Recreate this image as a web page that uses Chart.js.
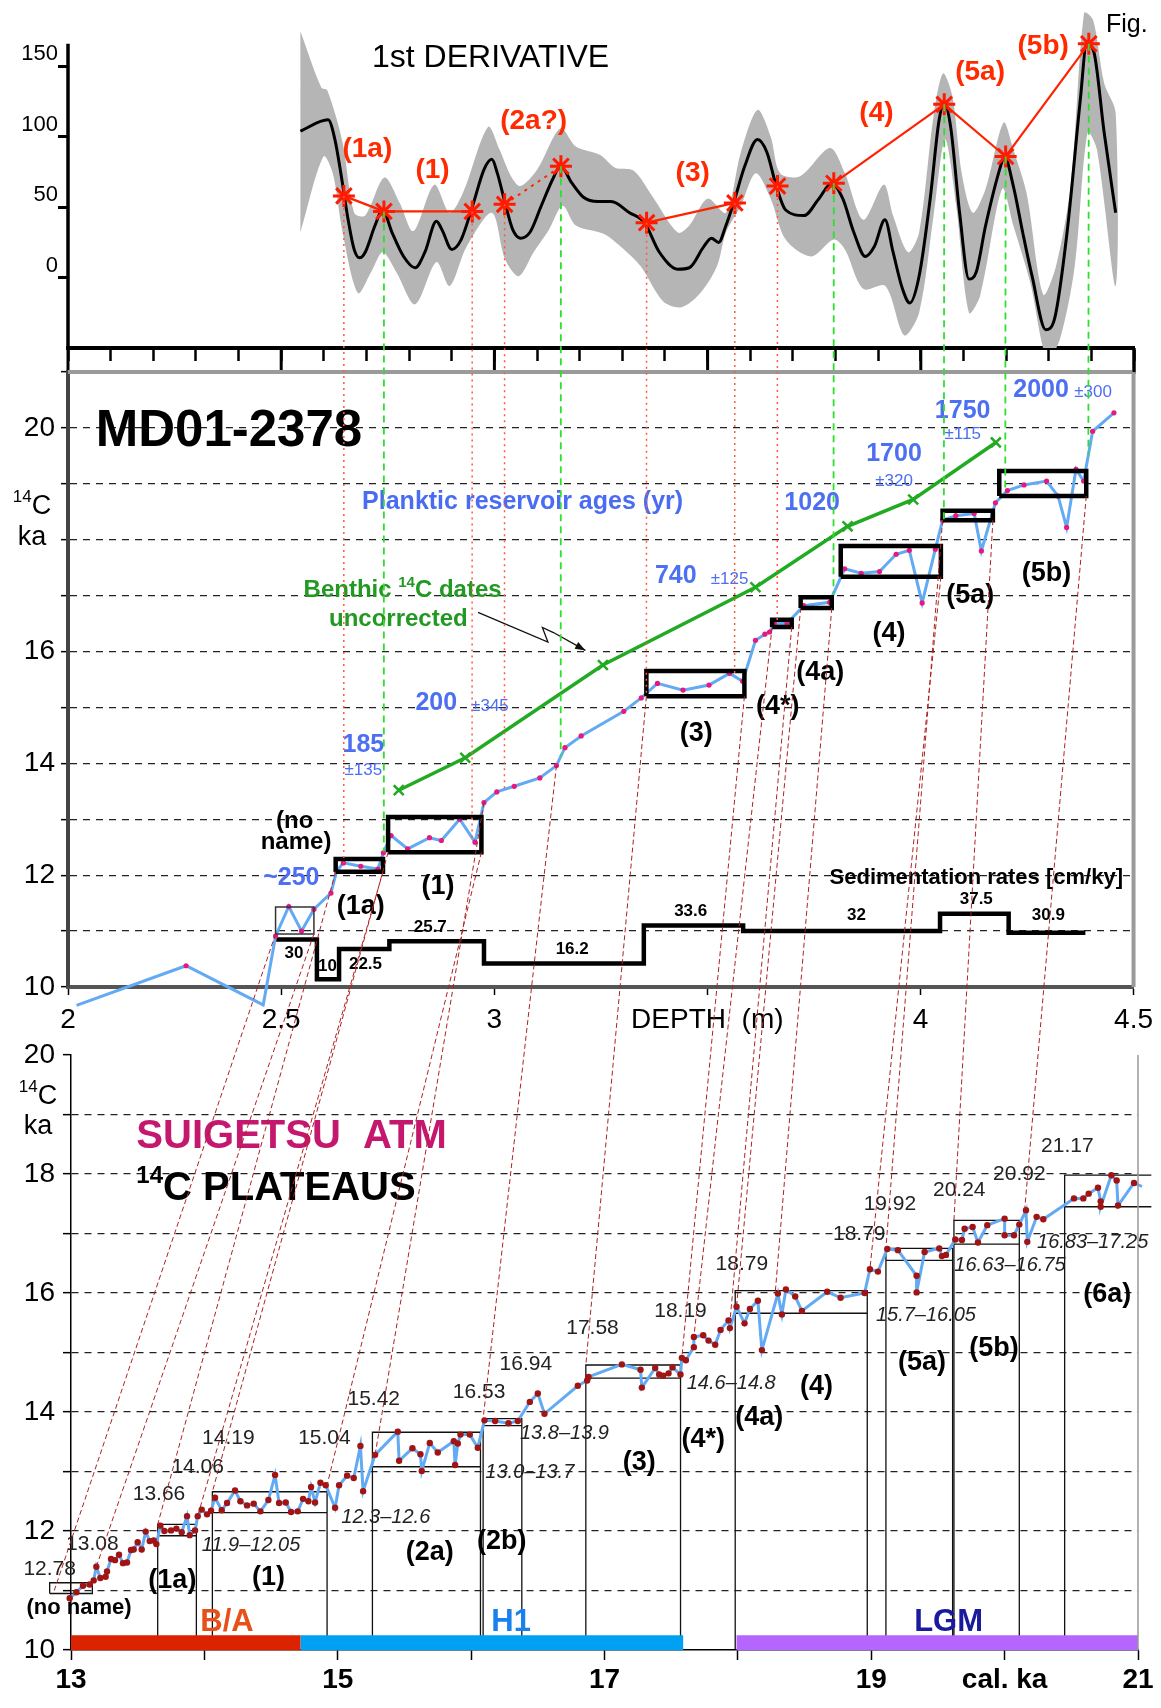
<!DOCTYPE html>
<html>
<head>
<meta charset="utf-8">
<script src="https://cdn.jsdelivr.net/npm/chart.js@4.4.1/dist/chart.umd.min.js"></script>
<style>
  html, body { margin: 0; padding: 0; background: #fff; }
  #page { position: relative; width: 1161px; height: 1708px; overflow: hidden; }
  canvas { position: absolute; left: 0; }
  #overlay { pointer-events: none; }
</style>
</head>
<body>
<div id="page">
  <canvas id="topChart"></canvas>
  <canvas id="midChart"></canvas>
  <canvas id="botChart"></canvas>
  <canvas id="overlay" width="1161" height="1708" style="top:0"></canvas>
</div>
<script>
// ---------- top panel: 1st derivative ----------
const derivDepth = [2.545,2.610,2.626,2.642,2.657,2.671,2.684,2.697,2.720,2.738,2.760,2.787,2.814,2.837,2.864,2.877,2.900,2.922,2.949,2.976,2.994,3.007,3.025,3.043,3.061,3.083,3.110,3.137,3.155,3.182,3.209,3.243,3.274,3.317,3.352,3.387,3.430,3.457,3.491,3.509,3.526,3.543,3.561,3.587,3.617,3.639,3.661,3.683,3.726,3.761,3.791,3.817,3.843,3.870,3.891,3.916,3.935,3.957,3.974,3.996,4.022,4.043,4.055,4.070,4.091,4.113,4.130,4.152,4.187,4.196,4.217,4.239,4.261,4.293,4.313,4.343,4.374,4.389,4.406,4.430,4.457];
const derivVal = [104,112,98,70,41,20,14,18,37,48,32,15,7,18,40,34,20,27,51,77,84,74,53,34,28,32,51,70,79,67,57,54,54,46,39,18,6,7,22,28,25,37,53,79,98,89,65,48,44,56,67,56,32,15,22,41,18,-8,-18,1,56,112,124,107,46,-1,4,37,79,86,65,32,1,-37,-30,32,126,166,160,103,46];
const bandUpDepth = [2.545,2.594,2.608,2.644,2.671,2.697,2.742,2.778,2.810,2.859,2.895,2.926,2.985,3.012,3.039,3.061,3.101,3.155,3.191,3.248,3.283,3.326,3.370,3.430,3.457,3.500,3.543,3.578,3.617,3.648,3.670,3.717,3.787,3.822,3.865,3.913,3.935,3.970,3.996,4.030,4.052,4.074,4.096,4.122,4.152,4.194,4.217,4.248,4.287,4.317,4.352,4.383,4.404,4.430,4.457];
const bandUpVal = [175,135,133,96,46,44,71,53,33,66,46,60,107,91,72,65,77,106,93,87,78,76,58,32,37,56,46,89,119,100,74,72,92,74,41,66,44,18,32,115,145,129,74,46,63,110,91,60,-12,8,67,188,183,138,117];
const bandLoDepth = [2.545,2.599,2.621,2.644,2.680,2.711,2.738,2.770,2.814,2.864,2.895,2.935,2.994,3.025,3.057,3.092,3.128,3.160,3.191,3.257,3.300,3.343,3.396,3.439,3.483,3.522,3.543,3.578,3.613,3.648,3.683,3.743,3.796,3.822,3.865,3.917,3.961,3.996,4.030,4.057,4.083,4.113,4.139,4.191,4.217,4.257,4.296,4.326,4.361,4.391,4.413,4.457];
const bandLoVal = [32,86,74,32,-11,4,18,4,-19,11,-6,22,46,13,1,18,34,51,37,31,21,8,-17,-21,-11,8,32,51,74,56,27,15,27,20,-8,-6,-41,-25,44,98,51,-25,-13,63,37,-4,-58,-44,8,103,91,-6];
const starDepth = [2.647,2.741,2.948,3.024,3.156,3.357,3.564,3.664,3.796,4.055,4.199,4.394];
const starVal = [58,47,47,52,79,39,53,65,67,123,86,166];
const starKind = ['r','g','r','r','g','r','r','r','g','g','g','g'];
const starChains = [[0,1,2],[5,6],[8,9,10,11]];
const starDotted = [[3,4]];
const topLabelText = ['(1a)','(1)','(2a?)','(3)','(4)','(5a)','(5b)'];
const topLabelDepth = [2.702,2.855,3.092,3.465,3.896,4.139,4.287];
const topLabelVal = [91,76,111,74,117,146,164];
const topTicks = [0,50,100,150];

// ---------- middle panel: MD01-2378 ----------
const coreDepth = [2.02,2.277,2.458,2.487,2.518,2.548,2.577,2.617,2.63,2.646,2.687,2.727,2.74,2.758,2.797,2.848,2.876,2.919,2.955,2.976,3.006,3.047,3.107,3.146,3.166,3.204,3.304,3.345,3.383,3.443,3.504,3.552,3.583,3.613,3.635,3.646,3.657,3.687,3.726,3.787,3.822,3.861,3.904,3.943,3.974,4.004,4.035,4.052,4.083,4.126,4.143,4.176,4.204,4.243,4.296,4.323,4.343,4.365,4.383,4.404,4.454];
const coreAge = [9.67,10.38,9.68,10.91,11.44,11.0,11.39,11.68,12.07,12.22,12.16,12.11,12.4,12.71,12.47,12.67,12.62,13.0,12.59,13.30,13.49,13.59,13.74,13.96,14.28,14.49,14.93,15.17,15.43,15.31,15.40,15.61,15.47,16.20,16.31,16.35,16.50,16.50,16.82,16.88,17.48,17.40,17.43,17.74,17.81,16.87,17.83,18.35,18.43,18.47,17.80,18.66,18.88,18.98,19.05,18.78,18.22,19.26,19.05,19.94,20.27];
const benthicDepth = [2.776,2.932,3.255,3.613,3.829,3.983,4.177];
const benthicAge = [13.52,14.10,15.76,17.15,18.24,18.72,19.74];
const sedDepth = [2.487,2.584,2.636,2.754,2.976,3.351,3.584,4.046,4.207,4.387];
const sedLevel = [10.85,10.14,10.68,10.82,10.42,11.10,11.00,11.31,10.97,10.97];
const sedRate = ['30','10','22.5','25.7','16.2','33.6','32','37.5','30.9'];
const sedLabelDepth = [2.53,2.609,2.698,2.85,3.183,3.461,3.85,4.131,4.30];
const sedLabelAge = [10.60,10.37,10.40,11.07,10.68,11.35,11.29,11.56,11.29];
const boxD0 = [2.487,2.628,2.751,3.357,3.652,3.719,3.813,4.052,4.185];
const boxD1 = [2.577,2.739,2.970,3.587,3.698,3.792,4.048,4.170,4.389];
const boxA0 = [10.95,12.06,12.41,15.20,16.44,16.78,17.34,18.35,18.78];
const boxA1 = [11.43,12.29,13.04,15.65,16.57,16.97,17.89,18.52,19.23];
const midBoxLabel = ['(1a)','(1)','(3)','(4*)','(4a)','(4)','(5a)','(5b)'];
const midBoxLabelDepth = [2.687,2.868,3.474,3.665,3.765,3.926,4.117,4.296];
const midBoxLabelAge = [11.44,11.80,14.54,15.01,15.63,16.32,17.00,17.39];
const resAge = ['185','200','740','1020','1700','1750','2000','~250'];
const resDepth = [2.693,2.864,3.426,3.746,3.938,4.099,4.283,2.524];
const resAt = [14.33,15.08,17.35,18.66,19.53,20.30,20.67,11.95];
const resErr = ['±135','±345','±125','±320','±115','±300'];
const resErrDepth = [2.693,2.99,3.552,3.938,4.099,4.405];
const resErrAt = [13.87,15.02,17.30,19.05,19.88,20.64];
const arrowDepth = [2.962,3.126,3.113,3.139,3.214];
const arrowAge = [16.70,16.17,16.43,16.34,16.02];

// ---------- bottom panel: Suigetsu plateaus ----------
const calAge = [12.87,12.89,12.92,12.96,12.99,13.04,13.09,13.14,13.17,13.19,13.22,13.26,13.27,13.30,13.33,13.36,13.39,13.42,13.45,13.47,13.50,13.53,13.56,13.59,13.62,13.64,13.67,13.70,13.75,13.79,13.83,13.87,13.89,13.93,13.95,13.98,14.02,14.05,14.08,14.13,14.17,14.23,14.27,14.32,14.37,14.42,14.48,14.53,14.56,14.61,14.65,14.70,14.74,14.78,14.80,14.83,14.87,14.91,14.98,15.01,15.07,15.12,15.17,15.19,15.28,15.45,15.46,15.56,15.62,15.63,15.69,15.75,15.87,15.88,15.90,15.92,15.99,16.05,16.10,16.18,16.28,16.35,16.44,16.50,16.55,16.80,16.87,16.88,17.13,17.27,17.28,17.38,17.41,17.44,17.48,17.51,17.57,17.58,17.61,17.67,17.67,17.74,17.78,17.83,17.87,17.93,17.94,17.99,18.05,18.09,18.15,18.18,18.30,18.33,18.36,18.43,18.48,18.67,18.77,18.95,18.99,19.05,19.12,19.20,19.34,19.34,19.40,19.51,19.53,19.56,19.63,19.68,19.70,19.76,19.80,19.87,20.00,20.00,20.07,20.11,20.16,20.17,20.24,20.29,20.52,20.59,20.63,20.70,20.72,20.72,20.80,20.84,20.85,20.97,21.03];
const calC14 = [10.97,11.07,11.08,11.06,10.87,10.97,11.08,11.10,11.17,11.40,11.21,11.23,11.32,11.53,11.51,11.60,11.46,11.47,11.68,11.69,11.81,11.69,11.99,11.83,11.84,11.78,12.09,12.00,12.01,12.04,11.98,12.25,11.93,12.01,12.25,12.36,12.28,12.34,12.56,12.35,12.47,12.68,12.50,12.43,12.46,12.33,12.52,12.94,12.47,12.48,12.32,12.33,12.54,12.50,12.74,12.48,12.81,12.77,12.39,12.77,12.93,12.89,13.43,12.67,13.28,13.67,13.18,13.39,13.29,13.01,13.48,13.32,13.51,13.11,13.47,13.62,13.62,13.40,13.86,13.85,13.81,13.85,14.17,14.31,13.97,14.44,14.53,14.59,14.80,14.71,14.41,14.74,14.63,14.61,14.65,14.75,14.63,14.91,14.87,15.09,15.26,15.29,15.20,15.13,15.38,15.54,15.41,15.77,15.49,15.73,15.87,15.04,15.99,15.64,16.06,15.94,15.70,16.02,15.92,16.00,16.40,16.36,16.74,16.72,16.29,16.01,16.69,16.75,16.62,16.64,16.90,16.89,17.08,17.11,16.85,17.14,17.25,16.97,16.97,17.15,17.39,16.86,17.28,17.24,17.59,17.59,17.67,17.77,17.54,17.45,17.98,17.89,17.47,17.85,17.79];
const platX0 = [12.84,13.65,14.06,15.26,16.09,16.86,17.98,19.11,19.62,20.45];
const platX1 = [13.16,13.94,14.92,16.07,16.38,17.57,18.97,19.61,20.11,21.10];
const platY0 = [10.95,11.92,12.31,13.08,13.77,14.57,15.66,16.55,16.82,17.45];
const platY1 = [11.13,12.11,12.66,13.66,13.89,14.79,16.04,16.75,17.22,17.98];
const platLegs = ['none','both','both','both','both','both','both','both','both','left'];
const calText = ['12.78','13.08','13.66','14.06','14.19','15.04','15.42','16.53','16.94','17.58','18.19','18.79','18.79','19.92','20.24','20.92','21.17'];
const calTextX = [12.84,13.16,13.66,13.95,14.18,14.90,15.27,16.06,16.41,16.91,17.57,18.03,18.91,19.14,19.66,20.11,20.47];
const calTextY = [11.36,11.78,12.62,13.07,13.56,13.56,14.21,14.34,14.81,15.40,15.69,16.48,16.99,17.49,17.73,17.99,18.46];
const rangeText = ['11.9–12.05','12.3–12.6','13.0–13.7','13.8–13.9','14.6–14.8','15.7–16.05','16.63–16.75','16.83–17.25'];
const rangeX = [14.35,15.36,16.44,16.70,17.95,19.41,20.04,20.66];
const rangeY = [11.75,12.22,12.98,13.64,14.48,15.62,16.46,16.85];
const platName = ['(no name)','(1a)','(1)','(2a)','(2b)','(3)','(4*)','(4a)','(4)','(5a)','(5b)','(6a)'];
const platNameX = [13.06,13.76,14.48,15.69,16.23,17.26,17.74,18.16,18.59,19.38,19.92,20.77];
const platNameY = [10.71,11.17,11.22,11.64,11.83,13.15,13.54,13.90,14.43,14.83,15.06,15.98];
const periodName = ['B/A','H1','LGM'];
const periodStart = [13.0,14.72,17.99];
const periodEnd = [14.72,17.59,21.0];
const periodLabelX = [14.17,16.30,19.58];

// ---------- tie lines, core depth -> cal age ----------
const linkDepth = [2.487,2.577,2.628,2.739,2.751,2.970,2.976,3.146,3.357,3.587,3.652,3.698,3.719,3.792,4.048,4.052,4.170,4.389];
const linkAgeMid = [10.95,10.95,12.06,12.06,12.41,12.41,13.30,13.96,15.20,15.20,16.44,16.44,16.78,16.78,17.34,18.35,18.35,18.78];
const linkCal = [12.87,13.19,13.65,13.95,14.06,14.92,15.28,16.09,16.86,17.58,17.67,17.94,17.99,18.28,18.99,19.11,19.62,20.15];
const linkAgeBot = [10.97,11.40,12.11,12.25,12.66,12.77,13.28,13.89,14.79,14.91,15.26,15.50,15.77,16.00,16.40,16.75,17.22,17.39];

// ---------- layout ----------
const FONT = "'Liberation Sans', Arial, Helvetica, sans-serif";
Chart.defaults.font.family = FONT;
Chart.defaults.color = '#000';
const W = 1161;
const P = {
  top: {ctop: -20, h: 400, l: 68, r: 1134, t: 10, b: 348},
  mid: {ctop: 340, h: 700, l: 68, r: 1134, t: 372, b: 987},
  bot: {ctop: 1000, h: 708, l: 71, r: 1138, t: 1055, b: 1650}
};

function setupCanvas(id, p) {
  const c = document.getElementById(id);
  c.width = W; c.height = p.h;
  c.style.top = p.ctop + 'px';
  c.style.width = W + 'px'; c.style.height = p.h + 'px';
  return c;
}
const pad = p => ({left: 0, right: W - p.r, top: p.t - p.ctop, bottom: 0});
const fixY = p => s => { s.width = p.l; };
const fixX = p => s => { s.height = p.ctop + p.h - p.b; };
const pts = (xs, ys) => xs.map((x, i) => ({x: x, y: ys[i]}));

function interp(xs, ys, v) {
  for (let i = 1; i < xs.length; i++) {
    if (v <= xs[i]) {
      const t = (v - xs[i - 1]) / (xs[i] - xs[i - 1]);
      return ys[i - 1] + t * (ys[i] - ys[i - 1]);
    }
  }
  return ys[ys.length - 1];
}

function label(ctx, s, x, y, font, color, align) {
  ctx.save();
  ctx.font = font;
  ctx.fillStyle = color || '#000';
  ctx.textAlign = align || 'center';
  ctx.textBaseline = 'middle';
  ctx.fillText(s, x, y);
  ctx.restore();
}

// text like "14C": pre + superscript + post
function supLabel(ctx, pre, sup, post, x, y, size, supSize, weight, color, align) {
  ctx.save();
  ctx.fillStyle = color || '#000';
  ctx.textBaseline = 'middle';
  ctx.textAlign = 'left';
  const f1 = weight + ' ' + size + 'px ' + FONT, f2 = weight + ' ' + supSize + 'px ' + FONT;
  ctx.font = f1;
  const w1 = ctx.measureText(pre).width, w3 = ctx.measureText(post).width;
  ctx.font = f2;
  const w2 = ctx.measureText(sup).width;
  const x0 = align === 'left' ? x : x - (w1 + w2 + w3) / 2;
  ctx.font = f1; ctx.fillText(pre, x0, y);
  ctx.font = f2; ctx.fillText(sup, x0 + w1, y - size * 0.32);
  ctx.font = f1; ctx.fillText(post, x0 + w1 + w2, y);
  ctx.restore();
}

const baseOpts = p => ({
  responsive: false,
  animation: false,
  events: [],
  layout: {padding: pad(p)},
  plugins: {legend: {display: false}, tooltip: {enabled: false}}
});

// ---------- top chart ----------
const bandPolygon = pts(bandUpDepth, bandUpVal).concat(pts(bandLoDepth, bandLoVal).reverse());
const topDatasets = [
  {data: bandPolygon, fill: 'shape', backgroundColor: '#b5b5b5', borderWidth: 0, pointRadius: 0, tension: 0.3, order: 10},
  {data: pts(derivDepth, derivVal), borderColor: '#000', borderWidth: 3, pointRadius: 0, cubicInterpolationMode: 'monotone', fill: false, order: 5}
];
starChains.forEach(ch => topDatasets.push({
  data: ch.map(i => ({x: starDepth[i], y: starVal[i]})), borderColor: '#ff2200', borderWidth: 2.2, pointRadius: 0, fill: false, order: 3
}));
starDotted.forEach(ch => topDatasets.push({
  data: ch.map(i => ({x: starDepth[i], y: starVal[i]})), borderColor: '#ff2200', borderWidth: 2, borderDash: [3, 5], pointRadius: 0, fill: false, order: 3
}));
topDatasets.push({
  data: pts(starDepth, starVal), showLine: false, pointStyle: 'star', pointRadius: 11,
  pointBorderColor: '#ff1a00', pointBackgroundColor: '#ff1a00', pointBorderWidth: 3, order: 1
});

const topChart = new Chart(setupCanvas('topChart', P.top), {
  type: 'line',
  data: {datasets: topDatasets},
  options: Object.assign(baseOpts(P.top), {
    scales: {
      x: {
        type: 'linear', min: 2, max: 4.5, afterFit: fixX(P.top),
        afterBuildTicks: s => { s.ticks = Array.from({length: 26}, (_, i) => ({value: 2 + i * 0.1})); },
        ticks: {display: false},
        grid: {drawOnChartArea: false, tickLength: 13, tickWidth: 2.5, tickColor: '#000'},
        border: {color: '#000', width: 4}
      },
      y: {
        type: 'linear', min: -50, max: 190, afterFit: fixY(P.top),
        afterBuildTicks: s => { s.ticks = topTicks.map(v => ({value: v})); },
        ticks: {font: {size: 22}, labelOffset: -12, padding: 0, color: '#000'},
        grid: {drawOnChartArea: false, tickLength: 10, tickWidth: 3, tickColor: '#000'},
        border: {display: false}
      }
    }
  }),
  plugins: [{
    id: 'topNotes',
    afterDraw(chart) {
      const {ctx, chartArea: a, scales: {x, y}} = chart;
      ctx.save();
      ctx.strokeStyle = '#000';
      ctx.lineWidth = 3.5;
      ctx.beginPath();
      ctx.moveTo(a.left, y.getPixelForValue(166));
      ctx.lineTo(a.left, a.bottom);
      ctx.stroke();
      ctx.lineWidth = 3;
      for (let k = 0; k <= 5; k++) {
        const px = x.getPixelForValue(2 + k * 0.5);
        ctx.beginPath(); ctx.moveTo(px, a.bottom); ctx.lineTo(px, a.bottom + 26); ctx.stroke();
      }
      ctx.restore();
      topLabelText.forEach((t, i) => label(ctx, t, x.getPixelForValue(topLabelDepth[i]), y.getPixelForValue(topLabelVal[i]), 'bold 28px ' + FONT, '#ff2a00'));
      label(ctx, '1st DERIVATIVE', x.getPixelForValue(2.713), y.getPixelForValue(156), '32px ' + FONT, '#000', 'left');
      label(ctx, 'Fig.', 1106, 25 - P.top.ctop, '25px ' + FONT, '#000', 'left');
    }
  }]
});

// ---------- middle chart ----------
const midDatasets = [];
boxD0.forEach((d0, i) => midDatasets.push({
  data: pts([d0, boxD1[i], boxD1[i], d0, d0], [boxA0[i], boxA0[i], boxA1[i], boxA1[i], boxA0[i]]),
  borderColor: i === 0 ? '#333' : '#000', borderWidth: i === 0 ? 1.5 : 4.5, borderJoinStyle: 'miter',
  pointRadius: 0, fill: false, order: 3
}));
midDatasets.push({data: pts(sedDepth, sedLevel), stepped: true, borderColor: '#000', borderWidth: 4.5, pointRadius: 0, fill: false, order: 6});
midDatasets.push({
  data: pts(benthicDepth, benthicAge), borderColor: '#22aa22', borderWidth: 3.5, pointStyle: 'crossRot', pointRadius: 7,
  pointBorderColor: '#22aa22', pointBorderWidth: 2.5, fill: false, order: 5
});
midDatasets.push({
  data: pts(coreDepth, coreAge), borderColor: '#62aaf4', borderWidth: 3, fill: false, clip: false,
  pointRadius: c => (c.dataIndex === 0 || c.dataIndex === 2) ? 0 : 2.6,
  pointBackgroundColor: '#e6197f', pointBorderWidth: 0, order: 4
});
midDatasets.push({data: pts(arrowDepth, arrowAge), borderColor: '#111', borderWidth: 1.3, pointRadius: 0, fill: false, order: 2});

const midChart = new Chart(setupCanvas('midChart', P.mid), {
  type: 'line',
  data: {datasets: midDatasets},
  options: Object.assign(baseOpts(P.mid), {
    scales: {
      x: {
        type: 'linear', min: 2, max: 4.5, afterFit: fixX(P.mid),
        ticks: {stepSize: 0.5, font: {size: 28}, padding: 8, callback: v => v === 3.5 ? 'DEPTH  (m)' : v},
        grid: {drawOnChartArea: false, tickLength: 8, tickColor: '#000', tickWidth: 1.5},
        border: {color: '#555', width: 4}
      },
      y: {
        type: 'linear', min: 10, max: 21, afterFit: fixY(P.mid),
        ticks: {stepSize: 1, font: {size: 28}, padding: 6, callback: v => (v % 2 === 0 && v !== 18) ? v : ''},
        grid: {color: c => (c.tick.value === 10 || c.tick.value === 21) ? 'rgba(0,0,0,0)' : '#222', lineWidth: 1.3, tickLength: 7, tickColor: '#000', tickWidth: 1.5},
        border: {color: '#444', width: 4, dash: [7, 6]}
      }
    }
  }),
  plugins: [{
    id: 'midNotes',
    afterDraw(chart) {
      const {ctx, chartArea: a, scales: {x, y}} = chart;
      const X = v => x.getPixelForValue(v), Y = v => y.getPixelForValue(v);
      ctx.save();
      ctx.strokeStyle = '#9a9a9a';
      ctx.lineWidth = 4;
      ctx.beginPath(); ctx.moveTo(a.left, a.top); ctx.lineTo(a.right, a.top); ctx.lineTo(a.right, a.bottom); ctx.stroke();
      // arrow head of the benthic pointer
      const n = arrowDepth.length - 1;
      const x1 = X(arrowDepth[n]), y1 = Y(arrowAge[n]), x0 = X(arrowDepth[n - 1]), y0 = Y(arrowAge[n - 1]);
      const ang = Math.atan2(y1 - y0, x1 - x0);
      ctx.fillStyle = '#111';
      ctx.beginPath();
      ctx.moveTo(x1, y1);
      ctx.lineTo(x1 - 11 * Math.cos(ang - 0.35), y1 - 11 * Math.sin(ang - 0.35));
      ctx.lineTo(x1 - 11 * Math.cos(ang + 0.35), y1 - 11 * Math.sin(ang + 0.35));
      ctx.closePath(); ctx.fill();
      ctx.restore();

      label(ctx, 'MD01-2378', X(2.065), Y(19.93), 'bold 51px ' + FONT, '#000', 'left');
      supLabel(ctx, '', '14', 'C', 32, Y(18.6), 27, 17, 'normal', '#000');
      label(ctx, 'ka', 32, Y(18.04), '27px ' + FONT, '#000');
      label(ctx, 'Planktic reservoir ages (yr)', X(2.69), Y(18.68), 'bold 25px ' + FONT, '#4a6cf2', 'left');
      resAge.forEach((t, i) => label(ctx, t, X(resDepth[i]), Y(resAt[i]), 'bold 25px ' + FONT, '#4d6ff2'));
      resErr.forEach((t, i) => label(ctx, t, X(resErrDepth[i]), Y(resErrAt[i]), '17px ' + FONT, '#4d6ff2'));
      supLabel(ctx, 'Benthic ', '14', 'C dates', X(2.785), Y(17.1), 24, 15, 'bold', '#229922');
      label(ctx, 'uncorrected', X(2.775), Y(16.57), 'bold 24px ' + FONT, '#229922');
      label(ctx, '(no', X(2.532), Y(12.97), 'bold 24px ' + FONT, '#000');
      label(ctx, 'name)', X(2.535), Y(12.58), 'bold 24px ' + FONT, '#000');
      midBoxLabel.forEach((t, i) => label(ctx, t, X(midBoxLabelDepth[i]), Y(midBoxLabelAge[i]), 'bold 27px ' + FONT, '#000'));
      sedRate.forEach((t, i) => label(ctx, t, X(sedLabelDepth[i]), Y(sedLabelAge[i]), 'bold 17px ' + FONT, '#000'));
      label(ctx, 'Sedimentation rates [cm/ky]', X(4.131), Y(11.95), 'bold 22px ' + FONT, '#000');
    }
  }]
});

// ---------- bottom chart ----------
const botDatasets = [];
platX0.forEach((x0, i) => {
  const x1 = platX1[i], y0 = platY0[i], y1 = platY1[i];
  let d;
  if (platLegs[i] === 'none') {
    d = pts([x0, x1, x1, x0, x0], [y0, y0, y1, y1, y0]);
  } else if (platLegs[i] === 'left') {
    d = pts([x0, x0, x1, x1, x0, x1], [10, y1, y1, null, y0, y0]);
  } else {
    d = pts([x0, x0, x1, x1, x1, x0, x1], [10, y1, y1, 10, null, y0, y0]);
  }
  botDatasets.push({data: d, borderColor: '#111', borderWidth: 1.3, pointRadius: 0, fill: false, clip: false, order: 5});
});
botDatasets.push({
  data: pts(calAge, calC14), borderColor: '#62aaf4', borderWidth: 3, fill: false, clip: false,
  pointRadius: 3.2, pointBackgroundColor: '#a01414', pointBorderWidth: 0, order: 3
});
const periodColor = ['#dd2200', '#00a0f2', '#b566ff'];
periodName.forEach((n, i) => botDatasets.push({
  data: pts([periodStart[i], periodEnd[i]], [10.12, 10.12]), borderColor: periodColor[i], borderWidth: 15,
  borderCapStyle: 'butt', pointRadius: 0, fill: false, clip: false, order: 1
}));

const botChart = new Chart(setupCanvas('botChart', P.bot), {
  type: 'line',
  data: {datasets: botDatasets},
  options: Object.assign(baseOpts(P.bot), {
    scales: {
      x: {
        type: 'linear', min: 13, max: 21, afterFit: fixX(P.bot),
        ticks: {stepSize: 1, font: {size: 28, weight: 'bold'}, padding: 3, callback: v => v === 20 ? 'cal. ka' : (v % 2 === 1 ? v : '')},
        grid: {drawOnChartArea: false, tickLength: 10, tickColor: '#000', tickWidth: 1.5},
        border: {color: '#000', width: 1.5}
      },
      y: {
        type: 'linear', min: 10, max: 20, afterFit: fixY(P.bot),
        ticks: {stepSize: 1, font: {size: 28}, padding: 8, callback: v => v % 2 === 0 ? v : ''},
        grid: {color: c => (c.tick.value === 10 || c.tick.value === 20) ? 'rgba(0,0,0,0)' : '#222', lineWidth: 1.3, tickLength: 8, tickColor: '#000', tickWidth: 1.5},
        border: {color: '#000', width: 1.5, dash: [7, 6]}
      }
    }
  }),
  plugins: [{
    id: 'botNotes',
    afterDraw(chart) {
      const {ctx, chartArea: a, scales: {x, y}} = chart;
      const X = v => x.getPixelForValue(v), Y = v => y.getPixelForValue(v);
      ctx.save();
      ctx.strokeStyle = '#999';
      ctx.lineWidth = 1.5;
      ctx.beginPath(); ctx.moveTo(a.right, a.top); ctx.lineTo(a.right, a.bottom); ctx.stroke();
      ctx.restore();
      supLabel(ctx, '', '14', 'C', 38, Y(19.31), 27, 17, 'normal', '#000');
      label(ctx, 'ka', 38, Y(18.8), '27px ' + FONT, '#000');
      label(ctx, 'SUIGETSU  ATM', X(13.49), Y(18.62), 'bold 40px ' + FONT, '#c4186e', 'left');
      supLabel(ctx, '', '14', 'C PLATEAUS', X(13.49), Y(17.75), 40, 24, 'bold', '#000', 'left');
      calText.forEach((t, i) => label(ctx, t, X(calTextX[i]), Y(calTextY[i]), '21px ' + FONT, '#222'));
      rangeText.forEach((t, i) => label(ctx, t, X(rangeX[i]), Y(rangeY[i]), 'italic 20px ' + FONT, '#222'));
      platName.forEach((t, i) => label(ctx, t, X(platNameX[i]), Y(platNameY[i]), 'bold ' + (i === 0 ? 22 : 27) + 'px ' + FONT, '#000'));
      const pcol = ['#e8501a', '#1a80f0', '#1a1a9c'];
      periodName.forEach((t, i) => label(ctx, t, X(periodLabelX[i]), Y(10.46), 'bold 31px ' + FONT, pcol[i]));
    }
  }]
});

// ---------- overlay: guide lines between panels ----------
(function drawOverlay() {
  const ctx = document.getElementById('overlay').getContext('2d');
  const tx = topChart.scales.x, ty = topChart.scales.y;
  const mx = midChart.scales.x, my = midChart.scales.y;
  const bx = botChart.scales.x, by = botChart.scales.y;
  starDepth.forEach((d, i) => {
    const endAge = interp(coreDepth, coreAge, d);
    ctx.save();
    if (starKind[i] === 'g') { ctx.strokeStyle = '#2ee02e'; ctx.setLineDash([7, 5]); ctx.lineWidth = 1.8; }
    else { ctx.strokeStyle = '#ff5a3c'; ctx.setLineDash([2, 4]); ctx.lineWidth = 1.5; }
    ctx.beginPath();
    ctx.moveTo(tx.getPixelForValue(d), ty.getPixelForValue(starVal[i]) + P.top.ctop);
    ctx.lineTo(mx.getPixelForValue(d), my.getPixelForValue(endAge) + P.mid.ctop);
    ctx.stroke();
    ctx.restore();
  });
  ctx.save();
  ctx.strokeStyle = '#b02020';
  ctx.lineWidth = 1;
  ctx.setLineDash([5, 3]);
  linkDepth.forEach((d, i) => {
    ctx.beginPath();
    ctx.moveTo(mx.getPixelForValue(d), my.getPixelForValue(linkAgeMid[i]) + P.mid.ctop);
    ctx.lineTo(bx.getPixelForValue(linkCal[i]), by.getPixelForValue(linkAgeBot[i]) + P.bot.ctop);
    ctx.stroke();
  });
  ctx.restore();
  // right end of the top axis joins the core panel frame
  ctx.save();
  ctx.strokeStyle = '#000';
  ctx.lineWidth = 3;
  ctx.beginPath();
  ctx.moveTo(tx.getPixelForValue(4.5), topChart.chartArea.bottom + P.top.ctop);
  ctx.lineTo(tx.getPixelForValue(4.5), midChart.chartArea.top + P.mid.ctop);
  ctx.stroke();
  ctx.restore();
})();
</script>
</body>
</html>
